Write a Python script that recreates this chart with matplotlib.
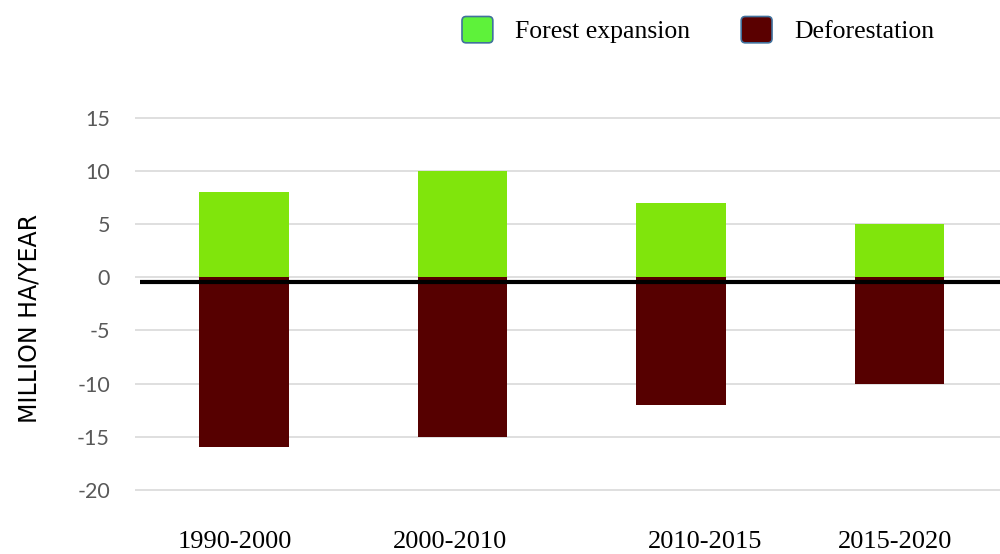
import matplotlib
matplotlib.use("Agg")
import matplotlib.pyplot as plt
import matplotlib.transforms as mtransforms
from matplotlib.patches import Patch, FancyBboxPatch
from matplotlib.legend_handler import HandlerPatch

periods = ["1990-2000", "2000-2010", "2010-2015", "2015-2020"]
forest_expansion = [8, 10, 7, 5]
deforestation = [-16, -15, -12, -10]
yticks = [-20, -15, -10, -5, 0, 5, 10, 15]
label_offsets = [-0.045, -0.06, 0.11, -0.02]

green = "#80e50c"
dark = "#560000"

fig = plt.figure(figsize=(10, 5.54), dpi=100)
ax = fig.add_axes([0.135, 0.106, 0.865, 0.691])

x = list(range(len(periods)))
b1 = ax.bar(x, forest_expansion, width=0.41, color=green, zorder=2)
b2 = ax.bar(x, deforestation, width=0.41, color=dark, zorder=2)

ax.set_ylim(-20.5, 15.5)
ax.set_xlim(-0.5, 3.46)
ax.set_yticks(yticks)
ax.set_yticklabels([str(v) for v in yticks], fontsize=15.5, color="#595959", family="Lato")
ax.yaxis.grid(True, color="#d9d9d9", lw=1.2, zorder=0)
ax.set_axisbelow(True)
ax.tick_params(axis="y", length=0, pad=18)

ax.set_xticks([xi + o for xi, o in zip(x, label_offsets)])
ax.set_xticklabels(periods, fontsize=19, family="Liberation Serif", color="black")
ax.tick_params(axis="x", length=0, pad=26)

for s in ax.spines.values():
    s.set_visible(False)

# zero line (drawn slightly below zero as in the reference)
trans = mtransforms.offset_copy(ax.get_yaxis_transform(), fig=fig, x=0, y=-5, units="dots")
ax.plot([0.006, 1.0], [0, 0], color="black", lw=3, transform=trans, zorder=3, solid_capstyle="butt")

fig.text(0.03, 0.425, "MILLION HA/YEAR", rotation=90, ha="center", va="center",
         fontsize=17, family="DejaVu Sans", color="black")


def rounded_box(legend, orig_handle, xdescent, ydescent, width, height, fontsize):
    return FancyBboxPatch((-xdescent, -ydescent), width, height,
                          boxstyle="round,pad=0,rounding_size=3")


handles = [Patch(facecolor="#5ef23a", edgecolor="#41719c", lw=1.2, label="Forest expansion"),
           Patch(facecolor="#5a0000", edgecolor="#41719c", lw=1.2, label="Deforestation")]
fig.legend(handles=handles, loc="center left", bbox_to_anchor=(0.462, 0.946),
           ncol=2, frameon=False, borderpad=0, borderaxespad=0,
           prop={"family": "Liberation Serif", "size": 18.5},
           handlelength=1.2, handleheight=1.2, handletextpad=0.85, columnspacing=2.0,
           handler_map={Patch: HandlerPatch(patch_func=rounded_box)})

fig.savefig("out.png", dpi=100)
